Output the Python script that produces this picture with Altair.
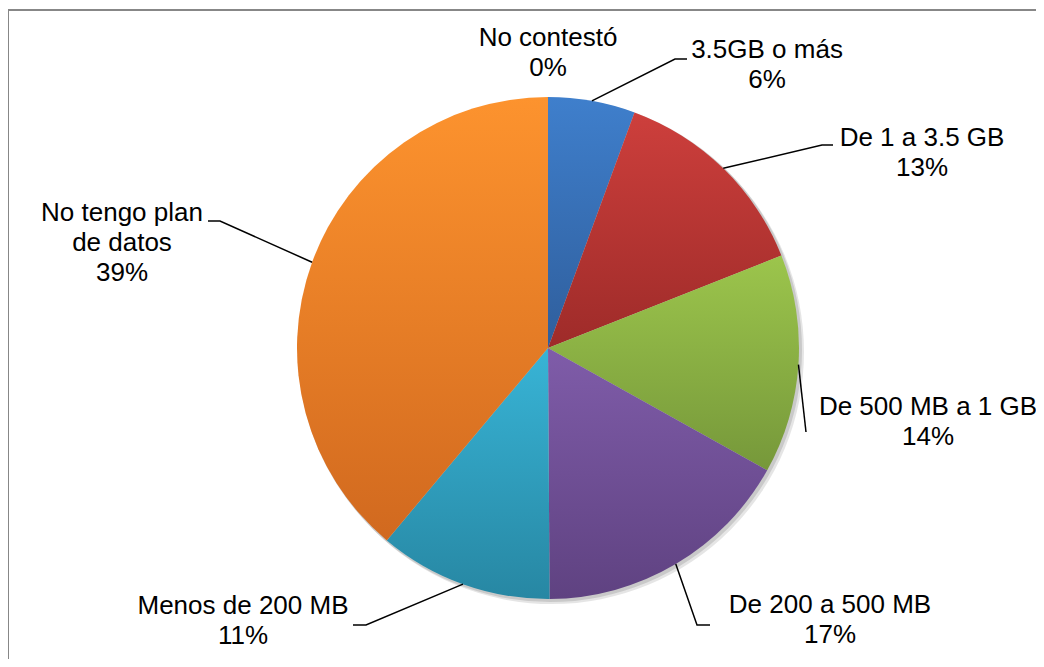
import math
import altair as alt
import pandas as pd

# ---------------- data ----------------
categories = ["3.5GB o más", "De 1 a 3.5 GB", "De 500 MB a 1 GB", "De 200 a 500 MB",
              "Menos de 200 MB", "No tengo plan de datos", "No contestó"]
label_text = ["3.5GB o más", "De 1 a 3.5 GB", "De 500 MB a 1 GB", "De 200 a 500 MB",
              "Menos de 200 MB", "No tengo plan\nde datos", "No contestó"]
percents = [5.6, 13.4, 14.1, 16.8, 11.2, 38.9, 0.0]

# ---------------- style / layout ----------------
top_colors = ["#3F7FCC", "#CD3F3C", "#9CC54C", "#7F5CA9", "#38B4D6", "#FD932E", "#A5A5A5"]
bottom_colors = ["#2F5E9C", "#9E2B29", "#76983A", "#5F4281", "#2787A3", "#D1691F", "#7F7F7F"]
CX, CY, R = 540, 340, 251
FONT = "Liberation Sans"
# label anchor (centre x, first baseline y) in chart pixels
label_x = [759, 914, 920, 822, 235, 114, 540]
label_y = [50, 138, 407, 605, 606, 213, 38]
# leader line elbow and stub end (None = no leader)
elbow = [(667, 51), (814, 137), (798, 424), (689, 617), (358, 617), (212, 213), None]
stub = [(679, 51), (825, 137), (798, 424), (702, 617), (345, 617), (200, 213), None]

# ---------------- derived tables ----------------
starts, ends = [], []
acc = 0.0
for p in percents:
    starts.append(acc)
    acc += p
    ends.append(acc)

slices = pd.DataFrame({"category": categories, "pct": percents,
                       "start": starts, "end": ends})

labels = pd.DataFrame({
    "category": categories,
    "text": [f"{t}\n{round(p)}%" for t, p in zip(label_text, percents)],
    "lx": label_x, "ly": label_y,
})

rows = []
for i, cat in enumerate(categories):
    if elbow[i] is None:
        continue
    mid = (starts[i] + ends[i]) / 2 / 100 * 2 * math.pi
    rx = CX + R * math.sin(mid)
    ry = CY - R * math.cos(mid)
    rows.append({"category": cat, "k": 0, "x": rx, "y": ry})
    rows.append({"category": cat, "k": 1, "x": elbow[i][0], "y": elbow[i][1]})
    rows.append({"category": cat, "k": 2, "x": stub[i][0], "y": stub[i][1]})
leaders = pd.DataFrame(rows)

theta_scale = alt.Scale(domain=[0, 100], range=[0, 2 * math.pi])

# ---------------- layers ----------------
border = alt.Chart(pd.DataFrame({"a": [0]})).mark_rect(
    filled=False, stroke="#878787", strokeWidth=2
).encode(x=alt.value(0), x2=alt.value(1200), y=alt.value(2), y2=alt.value(900))

shadow_layers = []
for off, rad, op in [(4, R + 1, 0.10), (2, R + 1, 0.12)]:
    shadow_layers.append(
        alt.Chart(slices)
        .transform_aggregate(start="min(start)", end="max(end)")
        .mark_arc(fill="#000000", opacity=op, outerRadius=rad)
        .encode(theta=alt.Theta("start:Q", scale=theta_scale), theta2="end:Q",
                x=alt.value(CX + off), y=alt.value(CY + off))
    )

slice_layers = []
for i, cat in enumerate(categories):
    grad = alt.Gradient(
        gradient="linear",
        stops=[alt.GradientStop(offset=0, color=top_colors[i]),
               alt.GradientStop(offset=1, color=bottom_colors[i])],
        x1=0, x2=0, y1=0, y2=1,
    )
    slice_layers.append(
        alt.Chart(slices)
        .transform_filter(alt.datum.category == cat)
        .mark_arc(fill=grad, outerRadius=R)
        .encode(theta=alt.Theta("start:Q", scale=theta_scale), theta2="end:Q",
                x=alt.value(CX), y=alt.value(CY))
    )

leader_layer = alt.Chart(leaders).mark_line(color="#000000", strokeWidth=1.5).encode(
    x=alt.X("x:Q", scale=None), y=alt.Y("y:Q", scale=None),
    detail="category:N", order="k:Q",
)

label_layer = alt.Chart(labels).mark_text(
    font=FONT, fontSize=26, lineBreak="\n", lineHeight=30,
    align="center", baseline="alphabetic", color="#000000",
).encode(
    x=alt.X("lx:Q", scale=None), y=alt.Y("ly:Q", scale=None), text="text:N",
)

chart = alt.layer(
    border, *shadow_layers, *slice_layers, leader_layer, label_layer
).properties(
    width=1028, height=651, padding=0,
    autosize=alt.AutoSizeParams(type="none"),
).configure_view(stroke=None)

chart.save("out.html", embed_options={"renderer": "svg", "actions": False})
